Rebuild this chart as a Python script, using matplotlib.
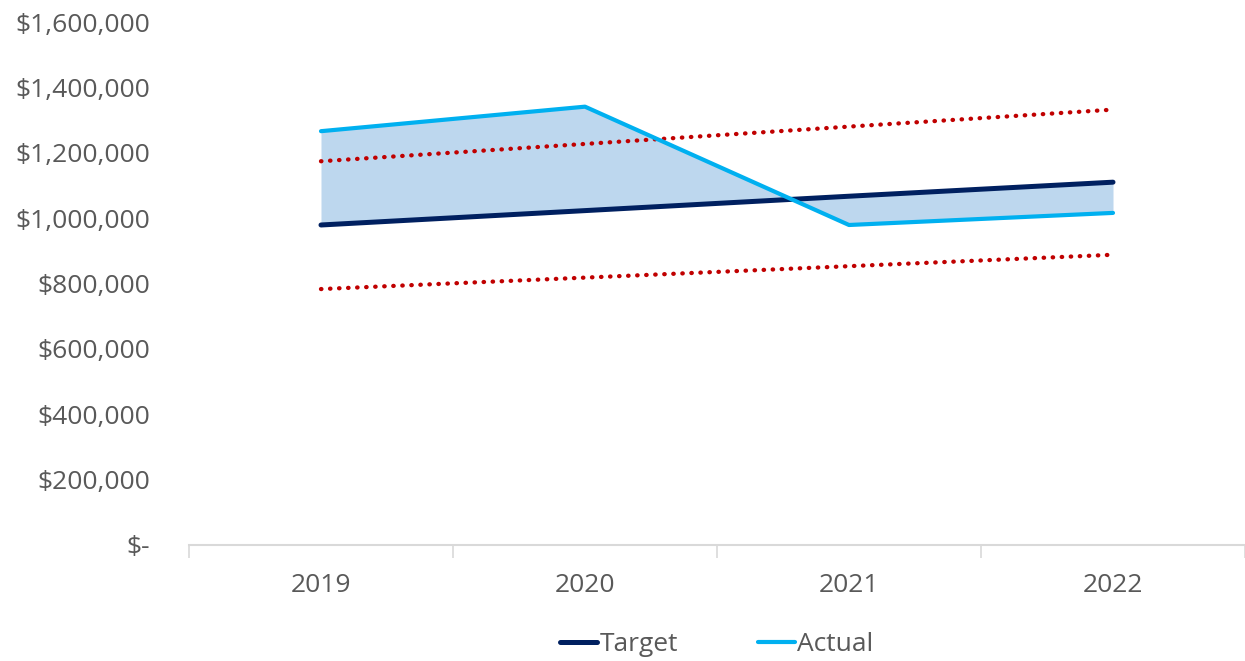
import numpy as np
import matplotlib.pyplot as plt
from matplotlib.ticker import FuncFormatter

# dados
anos = ['2019', '2020', '2021', '2022']
target = [979000, 1023000, 1067000, 1110000]
actual = [1266000, 1341000, 979000, 1016000]
limite_sup = [1174000, 1227000, 1280000, 1332000]
limite_inf = [783000, 818000, 853000, 888000]

plt.rcParams['font.family'] = ['Open Sans', 'DejaVu Sans']

fig = plt.figure(figsize=(12.45, 6.61), dpi=100)
ax = fig.add_axes([0.1518, 0.1755, 0.8482, 0.7912])

x = np.arange(len(anos))

ax.fill_between(x, target, actual, color='#BDD7EE', linewidth=0, zorder=1)
ax.plot(x, limite_sup, color='#C00000', linewidth=3.1, linestyle=(0, (0.1, 2.0)),
        dash_capstyle='round', zorder=2)
ax.plot(x, limite_inf, color='#C00000', linewidth=3.1, linestyle=(0, (0.1, 2.0)),
        dash_capstyle='round', zorder=2)
ax.plot(x, target, color='#002060', linewidth=3.6, solid_capstyle='round',
        label='Target', zorder=3)
ax.plot(x, actual, color='#00B0F0', linewidth=3.0, solid_capstyle='round',
        label='Actual', zorder=3)

ax.set_xlim(-0.5, 3.5)
ax.set_ylim(0, 1600000)
ax.set_yticks(np.arange(0, 1600001, 200000))


def moeda(v, pos):
    if v == 0:
        return '$-'
    return '${:,.0f}'.format(v)


ax.yaxis.set_major_formatter(FuncFormatter(moeda))
ax.set_xticks(x)
ax.set_xticklabels(anos)
ax.set_xticks(np.arange(-0.5, 3.6, 1), minor=True)

ax.tick_params(axis='y', length=0, pad=28, labelsize=19, labelcolor='#595959')
ax.tick_params(axis='x', which='major', length=0, pad=20, labelsize=19, labelcolor='#595959')
ax.tick_params(axis='x', which='minor', length=9, width=1.2, color='#D9D9D9')

for lado in ['top', 'right', 'left']:
    ax.spines[lado].set_visible(False)
ax.spines['bottom'].set_color('#D9D9D9')
ax.spines['bottom'].set_linewidth(1.5)

ax.legend(loc='center', bbox_to_anchor=(0.5, -0.19), ncol=2, frameon=False,
          fontsize=19, labelcolor='#595959', handlelength=1.4, handletextpad=0.1,
          columnspacing=3.0)

fig.savefig('out.png', dpi=100)
